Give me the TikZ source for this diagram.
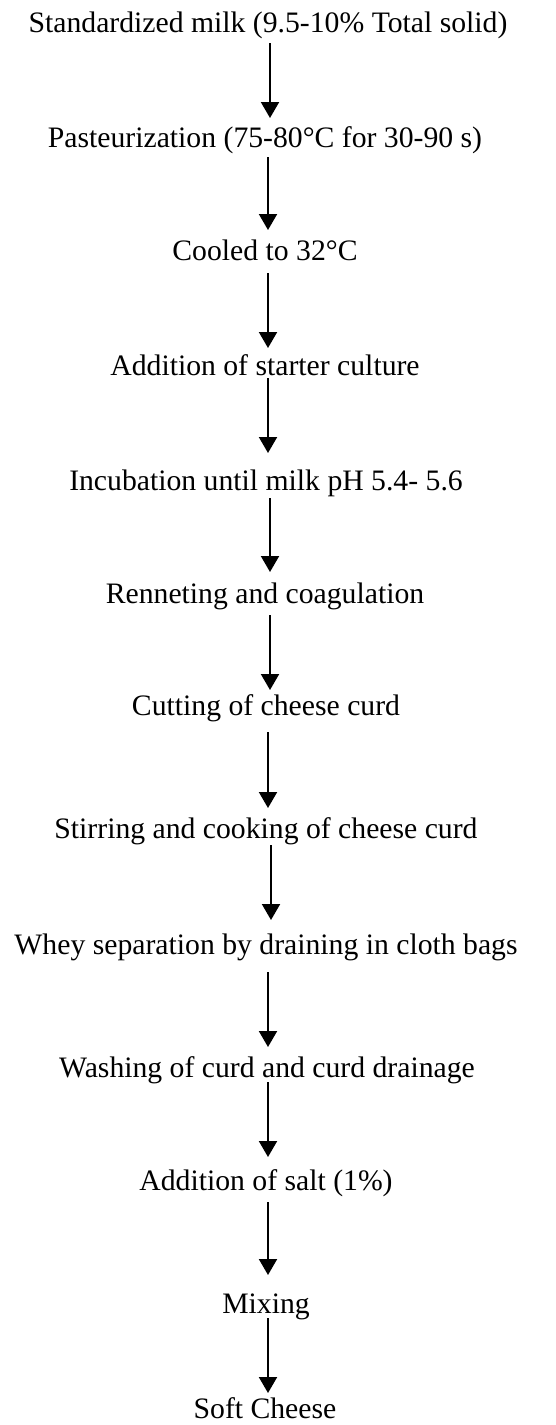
\documentclass[tikz,border=0pt]{standalone}
\usepackage{fontspec}
\setmainfont{Liberation Serif}
\usetikzlibrary{arrows.meta,calc}
\begin{document}
\begin{tikzpicture}[x=1pt,y=-1pt,
  stepnode/.style={anchor=base,inner sep=0pt,font=\fontsize{29.7}{32}\selectfont},
  flowarrow/.style={line width=2pt,-{Triangle[width=18pt,length=16pt]}}]
\useasboundingbox[fill=white] (0,0) rectangle (556,1425);
\node[stepnode] (n1) at (268,32) {Standardized milk (9.5-10\% Total solid)};
\node[stepnode] (n2) at (265,147) {Pasteurization (75-80\textdegree C for 30-90 s)};
\node[stepnode] (n3) at (265,260) {Cooled to 32\textdegree C};
\node[stepnode] (n4) at (265,375) {Addition of starter culture};
\node[stepnode] (n5) at (266,490) {Incubation until milk pH 5.4- 5.6};
\node[stepnode] (n6) at (265,603) {Renneting and coagulation};
\node[stepnode] (n7) at (266,715) {Cutting of cheese curd};
\node[stepnode] (n8) at (266,838) {Stirring and cooking of cheese curd};
\node[stepnode] (n9) at (266,954) {Whey separation by draining in cloth bags};
\node[stepnode] (n10) at (267,1077) {Washing of curd and curd drainage};
\node[stepnode] (n11) at (266,1190) {Addition of salt (1\%)};
\node[stepnode] (n12) at (266,1313) {Mixing};
\node[stepnode] (n13) at (265,1418) {Soft Cheese};
\draw[flowarrow] ($(n1.base)+(2,11)$) -- ($(n2.base)+(5,-29)$);
\draw[flowarrow] ($(n2.base)+(3,10)$) -- ($(n3.base)+(3,-30)$);
\draw[flowarrow] ($(n3.base)+(3,13)$) -- ($(n4.base)+(3,-27)$);
\draw[flowarrow] ($(n4.base)+(3,3)$) -- ($(n5.base)+(2,-37)$);
\draw[flowarrow] ($(n5.base)+(4,8)$) -- ($(n6.base)+(5,-31)$);
\draw[flowarrow] ($(n6.base)+(5,12)$) -- ($(n7.base)+(4,-25)$);
\draw[flowarrow] ($(n7.base)+(2,17)$) -- ($(n8.base)+(2,-30)$);
\draw[flowarrow] ($(n8.base)+(5,7)$) -- ($(n9.base)+(5,-34)$);
\draw[flowarrow] ($(n9.base)+(2,18)$) -- ($(n10.base)+(1,-30)$);
\draw[flowarrow] ($(n10.base)+(1,5)$) -- ($(n11.base)+(2,-33)$);
\draw[flowarrow] ($(n11.base)+(2,12)$) -- ($(n12.base)+(2,-38)$);
\draw[flowarrow] ($(n12.base)+(2,5)$) -- ($(n13.base)+(3,-25)$);
\end{tikzpicture}
\end{document}
